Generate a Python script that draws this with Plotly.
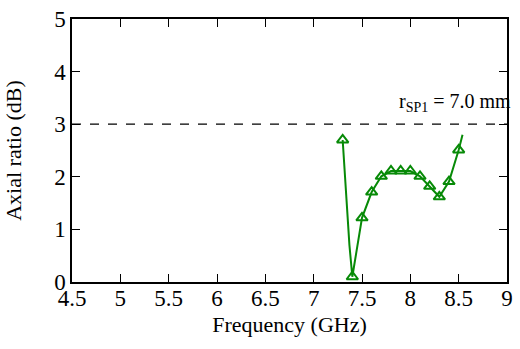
import plotly.graph_objects as go

freq = [7.3, 7.4, 7.5, 7.6, 7.7, 7.8, 7.9, 8.0, 8.1, 8.2, 8.3, 8.4, 8.5]
ar = [2.70, 0.10, 1.22, 1.71, 2.01, 2.11, 2.11, 2.11, 2.01, 1.82, 1.62, 1.91, 2.51]
line_freq = [7.3, 7.37, 7.4, 7.5, 7.6, 7.7, 7.8, 7.9, 8.0, 8.1, 8.2, 8.3, 8.4, 8.5, 8.54]
line_ar = [2.70, 0.70, 0.10, 1.22, 1.71, 2.01, 2.11, 2.11, 2.11, 2.01, 1.82, 1.62, 1.91, 2.51, 2.80]
x_ticks = [4.5, 5, 5.5, 6, 6.5, 7, 7.5, 8, 8.5, 9]
x_labels = ["4.5", "5", "5.5", "6", "6.5", "7", "7.5", "8", "8.5", "9"]
y_ticks = [0, 1, 2, 3, 4, 5]
ref_level = 3

green = "#078a07"
font = "Liberation Serif"

fig = go.Figure()
fig.add_trace(go.Scatter(x=line_freq, y=line_ar, mode="lines",
                         line=dict(color=green, width=2), showlegend=False,
                         hoverinfo="skip"))
fig.add_trace(go.Scatter(x=freq, y=ar, mode="markers",
                         marker=dict(symbol="triangle-up-open", size=10,
                                     color=green, line=dict(width=2, color=green)),
                         showlegend=False))
fig.add_shape(type="line", xref="paper", x0=0, x1=1, yref="y", y0=ref_level, y1=ref_level,
              line=dict(color="black", width=1.3, dash="dash"))
fig.add_annotation(x=7.86, y=3.41, xanchor="left", yanchor="middle",
                   text="r<sub>SP1</sub> = 7.0 mm", showarrow=False,
                   font=dict(family=font, size=20, color="black"))

axis_common = dict(showline=True, linecolor="black", linewidth=1.5, mirror="ticks",
                   ticks="inside", ticklen=8, tickcolor="black", tickwidth=1.2,
                   showgrid=False, zeroline=False,
                   tickfont=dict(family=font, size=23, color="black"))
fig.update_xaxes(range=[4.5, 9], tickvals=x_ticks, ticktext=x_labels,
                 ticklabelstandoff=-5,
                 title=dict(text="Frequency (GHz)", font=dict(family=font, size=22, color="black"),
                            standoff=6),
                 **axis_common)
fig.update_yaxes(range=[0, 5], tickvals=y_ticks,
                 title=dict(text="Axial ratio (dB)", font=dict(family=font, size=22, color="black"),
                            standoff=26),
                 **axis_common)
fig.update_layout(width=520, height=349, margin=dict(l=72, r=7, t=17, b=67),
                  plot_bgcolor="white", paper_bgcolor="white",
                  font=dict(family=font))
fig.write_html("out.html")
